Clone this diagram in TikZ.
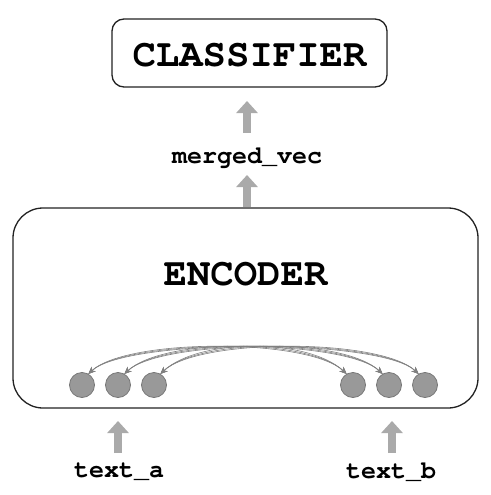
\documentclass[tikz,border=0pt]{standalone}
\usepackage[T1,TU]{fontenc}
\usetikzlibrary{arrows.meta}
\definecolor{arrgray}{HTML}{AAAAAA}
\definecolor{dotfill}{HTML}{999999}
\definecolor{dotline}{HTML}{777777}
\definecolor{linkgray}{HTML}{808080}
\definecolor{boxline}{HTML}{222222}
\newcommand{\cour}{\usefont{T1}{pcr}{b}{n}}
\begin{document}
\begin{tikzpicture}[x=1pt,y=-1pt,
  box/.style={draw=boxline,line width=1.3pt},
  bigtext/.style={font=\cour\fontsize{39}{39}\selectfont},
  smalltext/.style={font=\cour\fontsize{25}{25}\selectfont},
  bigarrow/.style={draw=arrgray,line width=7.5pt,-{Triangle[width=21pt,length=12pt]}},
  tok/.style={circle,draw=dotline,fill=dotfill,line width=0.8pt,minimum size=25pt,inner sep=0pt},
  link/.style={draw=linkgray,line width=0.6pt,<->,>={Stealth[length=7pt,width=6pt]}}
]
\useasboundingbox (0,0) rectangle (490,495);
% boxes
\draw[box,rounded corners=12pt] (112,19) rectangle (387,87);
\node[bigtext] (cls) at (249.5,55) {CLASSIFIER};
\draw[box,rounded corners=30pt] (13,208) rectangle (478,408);
\node[bigtext] (enc) at (245.5,274) {ENCODER};
% labels
\node[smalltext] (mv) at (247,157) {merged\_vec};
\node[smalltext] (ta) at (119,472) {text\_a};
\node[smalltext] (tb) at (391,472) {text\_b};
% arrow endpoints
\coordinate (a1s) at (247,133);
\coordinate (a1e) at (247,101);
\coordinate (a2s) at (247,207);
\coordinate (a2e) at (247,175);
\coordinate (a3s) at (118,453);
\coordinate (a3e) at (118,421);
\coordinate (a4s) at (392,453);
\coordinate (a4e) at (392,421);
\draw[bigarrow] (a1s) -- (a1e);
\draw[bigarrow] (a2s) -- (a2e);
\draw[bigarrow] (a3s) -- (a3e);
\draw[bigarrow] (a4s) -- (a4e);
% tokens
\node[tok] (l1) at (82,385) {};
\node[tok] (l2) at (118,385) {};
\node[tok] (l3) at (154,385) {};
\node[tok] (r1) at (353,385) {};
\node[tok] (r2) at (389,385) {};
\node[tok] (r3) at (425,385) {};
% links
\foreach \a/\xa in {l1/82,l2/118,l3/154}{
  \foreach \b/\xb in {r1/353,r2/389,r3/425}{
    \draw[link] (\a.60) .. controls (\xa+45,338) and (\xb-45,338) .. (\b.120);
  }
}
\end{tikzpicture}
\end{document}
